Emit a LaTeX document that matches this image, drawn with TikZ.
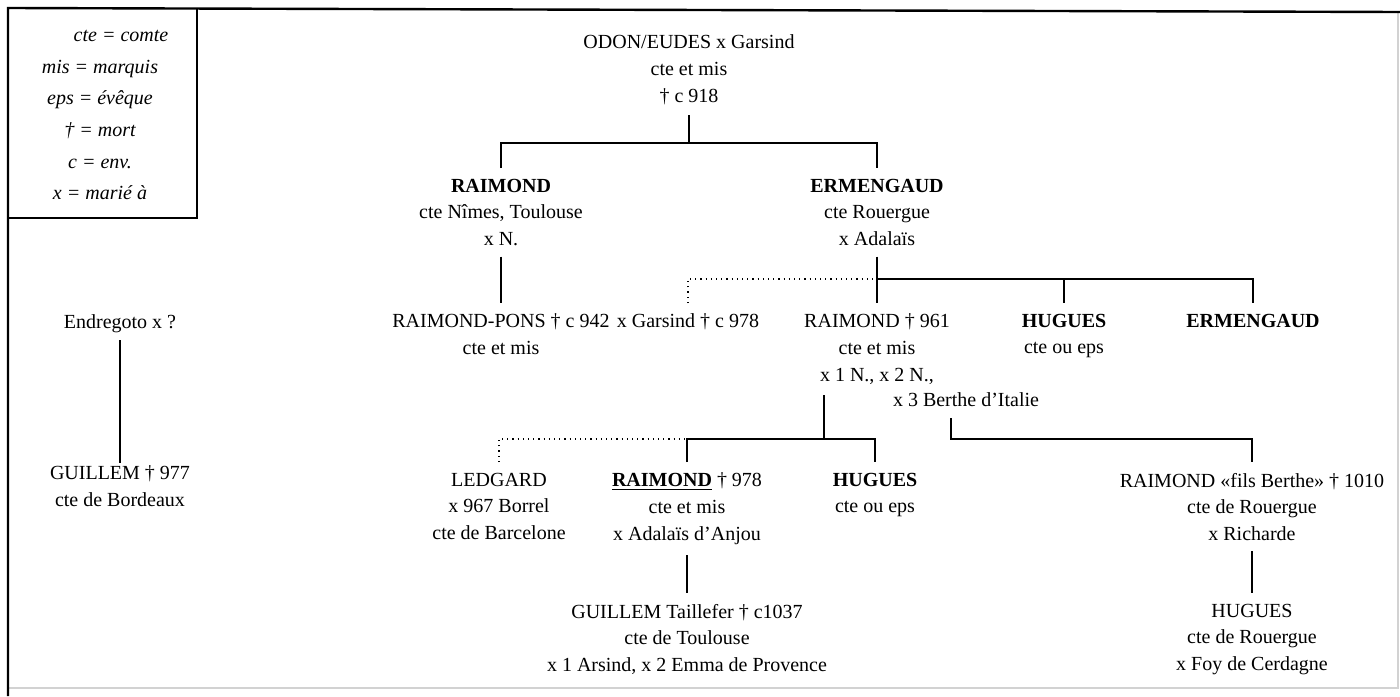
\documentclass[tikz,border=0pt]{standalone}
\usepackage{fontspec}
\setmainfont{Liberation Serif}
\usetikzlibrary{calc}

\begin{document}
\begin{tikzpicture}[x=0.5pt, y=-0.5pt,
  pers/.style={anchor=north, align=center, inner sep=0pt, outer sep=5.5pt, font=\fontsize{10}{13.3}\selectfont},
  lien/.style={black, line width=0.6pt},
  lienpt/.style={black, line width=0.6pt, dotted}]
  \useasboundingbox (0,0) rectangle (1400,696);
  \draw [gray!35, line width=0.6pt] (8,688)--(1398,688)--(1398,12);
  \draw [black, line width=1.2pt] (8,696)--(8,8)--(1400,12);
  \draw [black, line width=0.8pt] (8,218)--(197,218)--(197,8);
  \node [anchor=north, align=center, inner sep=0pt, font=\itshape\fontsize{10}{15.8}\selectfont] (legende) at (100,30)
    {\hspace*{2.1em}cte = comte\\ mis = marquis\\ eps = évêque\\ † = mort\\ c = env.\\ x = marié à};

  \node [pers] (odon) at (689,24) {ODON/EUDES x Garsind\\ cte et mis\\ † c 918};
  \node [pers] (raim) at (501,168) {\textbf{RAIMOND}\\ cte Nîmes, Toulouse\\ x N.};
  \node [pers] (erm) at (877,168) {\textbf{ERMENGAUD}\\ cte Rouergue\\ x Adalaïs};
  \node [pers] (rpons) at (501,303) {RAIMOND-PONS † c 942\\ cte et mis};
  \node [pers] (garsind) at (688,303) {x Garsind † c 978};
  \node [pers] (r961) at (877,303) {RAIMOND † 961\\ cte et mis\\ x 1 N., x 2 N.,};
  \node [pers, anchor=north west] (berthe) at (882,382) {x 3 Berthe d’Italie};
  \node [pers] (hug1) at (1064,303) {\textbf{HUGUES}\\ cte ou eps};
  \node [pers] (erm2) at (1253,303) {\textbf{ERMENGAUD}};
  \node [pers] (endre) at (120,304) {Endregoto x ?};
  \node [pers] (guilb) at (120,455) {GUILLEM † 977\\ cte de Bordeaux};
  \node [pers] (ledg) at (499,462) {LEDGARD\\ x 967 Borrel\\ cte de Barcelone};
  \node [pers] (r978) at (687,462) {\underline{\textbf{RAIMOND}} † 978\\ cte et mis\\ x Adalaïs d’Anjou};
  \node [pers] (hug2) at (875,462) {\textbf{HUGUES}\\ cte ou eps};
  \node [pers] (rfils) at (1252,462) {RAIMOND «fils Berthe» † 1010\\ cte de Rouergue\\ x Richarde};
  \node [pers] (guilt) at (687,593) {GUILLEM Taillefer † c1037\\ cte de Toulouse\\ x 1 Arsind, x 2 Emma de Provence};
  \node [pers] (hug3) at (1252,593) {HUGUES\\ cte de Rouergue\\ x Foy de Cerdagne};

  \coordinate (bus1) at (689,143);
  \coordinate (bus2) at (877,279);
  \coordinate (bus3) at (824,439);

  \draw [lien] (odon.south)--(bus1);
  \draw [lien] (raim.north) |- (bus1) -| (erm.north);
  \draw [lien] (raim.south)--(rpons.north);
  \draw [lien] (erm.south)--(r961.north);
  \draw [lienpt] (garsind.north) |- (bus2);
  \draw [lien] (bus2) -| (hug1.north) (bus2) -| (erm2.north);
  \draw [lien] (r961.south -| bus3)--(bus3);
  \draw [lien] (r978.north) |- (bus3) -| (hug2.north);
  \draw [lienpt] (ledg.north) |- (r978.north |- bus3);
  \draw [lien] ([xshift=-7.5pt]berthe.south)--([xshift=-7.5pt]berthe.south |- bus3) -| (rfils.north);
  \draw [lien] (r978.south)--(guilt.north);
  \draw [lien] (rfils.south)--(hug3.north);
  \draw [lien] ([yshift=2pt]endre.south)--([yshift=-4pt]guilb.north);
\end{tikzpicture}
\end{document}
